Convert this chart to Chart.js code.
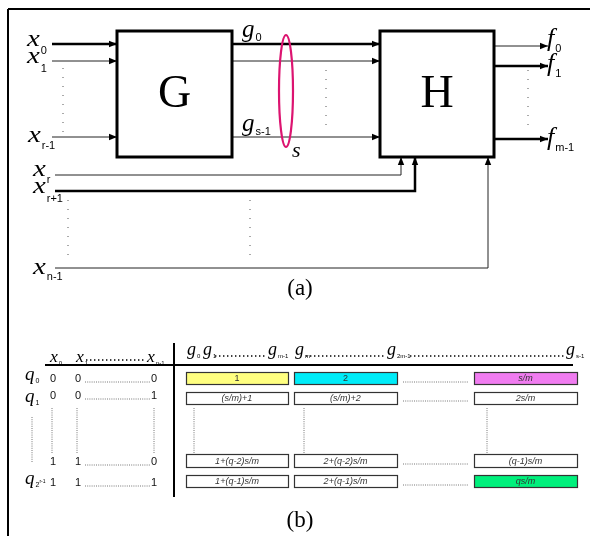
<!DOCTYPE html>
<html>
<head>
<meta charset="utf-8">
<script src="https://cdn.jsdelivr.net/npm/chart.js@4.4.1/dist/chart.umd.min.js"></script>
<style>
  html, body { margin: 0; padding: 0; background: #fff; }
  canvas { display: block; }
</style>
</head>
<body>
<canvas id="diagram" width="590" height="536"></canvas>
<script>
// --- texts of the figure ---
const blockNames = ['G', 'H'];
const inputSubs = ['0', '1', 'r-1', 'r', 'r+1', 'n-1'];
const linkSubs = ['0', 's-1'];
const bundleName = 's';
const outputSubs = ['0', '1', 'm-1'];
const captions = ['(a)', '(b)'];
const tableInputSubs = ['0', '1', 'n-1'];
const tableOutputSubs = ['0', '1', 'm-1', 'm', '2m-1', 's-1'];
const stateSubs = ['0', '1', '2'];
const stateSups = ['', '', 'r-1'];
const bitRows = [
    ['0', '0', '0'],
    ['0', '0', '1'],
    ['1', '1', '0'],
    ['1', '1', '1']
];
const cellLabels = [
    ['1', '2', 's/m'],
    ['(s/m)+1', '(s/m)+2', '2s/m'],
    ['1+(q-2)s/m', '2+(q-2)s/m', '(q-1)s/m'],
    ['1+(q-1)s/m', '2+(q-1)s/m', 'qs/m']
];

// --- geometry (in scale units, 1 unit = 1 px) ---
const blockRects = [[117, 31, 232, 157], [380, 31, 494, 157]];
const wireRoutes = [
    [[[52, 44], [117, 44]], 2.5],
    [[[52, 61], [117, 61]], 1],
    [[[52, 137], [117, 137]], 1],
    [[[232, 44], [380, 44]], 2.5],
    [[[232, 61], [380, 61]], 1],
    [[[232, 137], [380, 137]], 1],
    [[[55, 175], [401, 175], [401, 157]], 1],
    [[[55, 191], [415, 191], [415, 157]], 2.5],
    [[[55, 268], [488, 268], [488, 157]], 1],
    [[[494, 46], [548, 46]], 1],
    [[[494, 66], [548, 66]], 2.5],
    [[[494, 139], [548, 139]], 2.5]
];
const sparseDots = [
    [[63, 68], [63, 132]], [[68, 200], [68, 262]], [[250, 200], [250, 262]],
    [[326, 70], [326, 132]], [[528, 70], [528, 133]]
];
const fineDots = [
    [[32, 417], [32, 462]], [[52, 408], [52, 453]], [[77, 408], [77, 453]], [[154, 408], [154, 453]],
    [[194, 408], [194, 453]], [[304, 408], [304, 453]], [[487, 408], [487, 453]],
    [[85, 382], [150, 382]], [[85, 399], [150, 399]], [[85, 465], [150, 465]], [[85, 486], [150, 486]],
    [[403, 382], [469, 382]], [[403, 401], [469, 401]], [[403, 464], [469, 464]], [[403, 485], [469, 485]]
];
const headerDots = [[[86, 360], [144, 360]], [[215, 356], [266, 356]], [[306, 356], [385, 356]], [[410, 356], [565, 356]]];
const solidRules = [
    [[[8, 9], [590, 9]], 2], [[[8, 9], [8, 536]], 2],
    [[[45, 365], [573, 365]], 2], [[[174, 343], [174, 497]], 2]
];
const cellCols = [[186, 288], [294, 397], [474, 577]];
const cellRowsY = [[372, 384], [392, 404], [454, 467], [475, 487]];
const cellFills = [['#ffff80', '#00ecf8', '#f07cf0'], [], [], [null, null, '#00f07c']];
const bitCols = [53, 78, 154];
const bitRowsY = [379, 396, 462, 483];

const serif = '"Liberation Serif", "Times New Roman", serif';
const sans = '"Liberation Sans", Arial, sans-serif';

const datasets = [];
wireRoutes.forEach(([pts, w]) => datasets.push({
    type: 'line', data: pts.map(p => ({x: p[0], y: p[1]})),
    borderColor: w > 1.5 ? '#000' : '#222', borderWidth: w, pointRadius: 0, arrow: true
}));
sparseDots.forEach(pts => datasets.push({
    type: 'line', data: pts.map(p => ({x: p[0], y: p[1]})),
    borderColor: '#555', borderWidth: 1, borderDash: [1, 8], pointRadius: 0
}));
fineDots.forEach(pts => datasets.push({
    type: 'line', data: pts.map(p => ({x: p[0], y: p[1]})),
    borderColor: '#777', borderWidth: 1, borderDash: [1, 1.2], pointRadius: 0
}));
headerDots.forEach(pts => datasets.push({
    type: 'line', data: pts.map(p => ({x: p[0], y: p[1]})),
    borderColor: '#000', borderWidth: 1.4, borderDash: [1.4, 2.6], pointRadius: 0
}));
solidRules.forEach(([pts, w]) => datasets.push({
    type: 'line', data: pts.map(p => ({x: p[0], y: p[1]})),
    borderColor: '#000', borderWidth: w, pointRadius: 0
}));

// italic main symbol with a small sans subscript (and optional superscript on it)
function symbol(ctx, main, sub, x, y, size, subSize, subDy, sup, stretch) {
    const k = stretch || 1;
    ctx.font = 'italic ' + size + 'px ' + serif;
    ctx.textAlign = 'left';
    ctx.textBaseline = 'alphabetic';
    ctx.save();
    ctx.translate(x, y);
    ctx.scale(k, 1);
    ctx.fillText(main, 0, 0);
    ctx.restore();
    const w = ctx.measureText(main).width * k;
    ctx.font = subSize + 'px ' + sans;
    ctx.fillText(sub, x + w + 1, y + subDy);
    if (sup) {
        const sw = ctx.measureText(sub).width;
        ctx.font = (subSize - 2) + 'px ' + sans;
        ctx.fillText(sup, x + w + 1 + sw, y + subDy - 4);
    }
}

const diagramPlugin = {
    id: 'diagram',
    afterDatasetsDraw(chart) {
        const ctx = chart.ctx;
        const X = v => chart.scales.x.getPixelForValue(v);
        const Y = v => chart.scales.y.getPixelForValue(v);
        ctx.save();

        // arrow heads at the end of each wire
        chart.data.datasets.forEach(ds => {
            if (!ds.arrow) return;
            const n = ds.data.length;
            const a = ds.data[n - 2], b = ds.data[n - 1];
            const ang = Math.atan2(Y(b.y) - Y(a.y), X(b.x) - X(a.x));
            ctx.save();
            ctx.translate(X(b.x), Y(b.y));
            ctx.rotate(ang);
            ctx.fillStyle = '#000';
            ctx.beginPath();
            ctx.moveTo(0, 0);
            ctx.lineTo(-8, -3.2);
            ctx.lineTo(-8, 3.2);
            ctx.closePath();
            ctx.fill();
            ctx.restore();
        });

        // blocks G and H
        blockRects.forEach((r, i) => {
            ctx.lineWidth = 3;
            ctx.strokeStyle = '#000';
            ctx.strokeRect(X(r[0]), Y(r[1]), X(r[2]) - X(r[0]), Y(r[3]) - Y(r[1]));
            ctx.fillStyle = '#000';
            ctx.font = '46px ' + serif;
            ctx.textAlign = 'center';
            ctx.textBaseline = 'alphabetic';
            ctx.fillText(blockNames[i], (X(r[0]) + X(r[2])) / 2, Y(107));
        });

        // bundle ellipse
        ctx.strokeStyle = '#dc1470';
        ctx.lineWidth = 2.2;
        ctx.beginPath();
        ctx.ellipse(X(286), Y(91), 7, 56, 0, 0, Math.PI * 2);
        ctx.stroke();

        ctx.fillStyle = '#000';
        // input labels
        const inPos = [[27, 46, 8], [27, 63, 9], [28, 142, 7], [33, 176, 7], [33, 193, 9], [33, 274, 6]];
        inPos.forEach((p, i) => symbol(ctx, 'x', inputSubs[i], X(p[0]), Y(p[1]), 24, 11, p[2], '', 1.2));
        // link labels
        symbol(ctx, 'g', linkSubs[0], X(242), Y(37), 25, 11, 4);
        symbol(ctx, 'g', linkSubs[1], X(242), Y(131), 25, 11, 4);
        ctx.font = 'italic 22px ' + serif;
        ctx.textAlign = 'left';
        ctx.fillText(bundleName, X(292), Y(157));
        // output labels
        const outPos = [[547, 46, 6], [547, 71, 6], [547, 145, 6]];
        outPos.forEach((p, i) => symbol(ctx, 'f', outputSubs[i], X(p[0]), Y(p[1]), 26, 11, p[2]));

        // captions
        ctx.font = '23px ' + serif;
        ctx.textAlign = 'center';
        ctx.fillText(captions[0], X(300), Y(295));
        ctx.fillText(captions[1], X(300), Y(527));

        // table header
        const hx = [50, 76, 147];
        hx.forEach((x, i) => symbol(ctx, 'x', tableInputSubs[i], X(x), Y(362), 16, 6, 3, '', 1.1));
        const gx = [187, 203, 268, 295, 387, 566];
        gx.forEach((x, i) => symbol(ctx, 'g', tableOutputSubs[i], X(x), Y(355), 18, 6, 3));
        // state labels
        const qy = [[380, 0], [402, 1], [484, 2]];
        qy.forEach(([y, i]) => symbol(ctx, 'q', stateSubs[i], X(25), Y(y), 19, 7, 3, stateSups[i]));

        // bits
        ctx.font = '11px ' + sans;
        ctx.textAlign = 'center';
        ctx.textBaseline = 'middle';
        bitRows.forEach((row, r) => row.forEach((b, c) => {
            ctx.fillStyle = '#111';
            ctx.fillText(b, X(bitCols[c]), Y(bitRowsY[r]));
        }));

        // cells
        cellLabels.forEach((row, r) => row.forEach((txt, c) => {
            const [x0, x1] = cellCols[c];
            const [y0, y1] = cellRowsY[r];
            const fill = (cellFills[r] && cellFills[r][c]) || '#fff';
            ctx.fillStyle = fill;
            ctx.fillRect(X(x0), Y(y0), X(x1) - X(x0), Y(y1) - Y(y0));
            ctx.strokeStyle = '#333';
            ctx.lineWidth = 1.2;
            ctx.strokeRect(X(x0) + 0.5, Y(y0) + 0.5, X(x1) - X(x0), Y(y1) - Y(y0));
            ctx.fillStyle = '#333';
            ctx.font = (/[a-z]/.test(txt) ? 'italic ' : '') + '9px ' + sans;
            ctx.textAlign = 'center';
            ctx.textBaseline = 'middle';
            ctx.fillText(txt, (X(x0) + X(x1)) / 2, (Y(y0) + Y(y1)) / 2 + 0.5);
        }));

        ctx.restore();
    }
};

new Chart(document.getElementById('diagram'), {
    type: 'scatter',
    data: { datasets: datasets },
    options: {
        responsive: false,
        animation: false,
        layout: { padding: 0 },
        elements: { line: { tension: 0, borderCapStyle: 'butt' } },
        scales: {
            x: { type: 'linear', min: 0, max: 590, display: false },
            y: { type: 'linear', min: 0, max: 536, reverse: true, display: false }
        },
        plugins: { legend: { display: false }, tooltip: { enabled: false } }
    },
    plugins: [diagramPlugin]
});
</script>
</body>
</html>
